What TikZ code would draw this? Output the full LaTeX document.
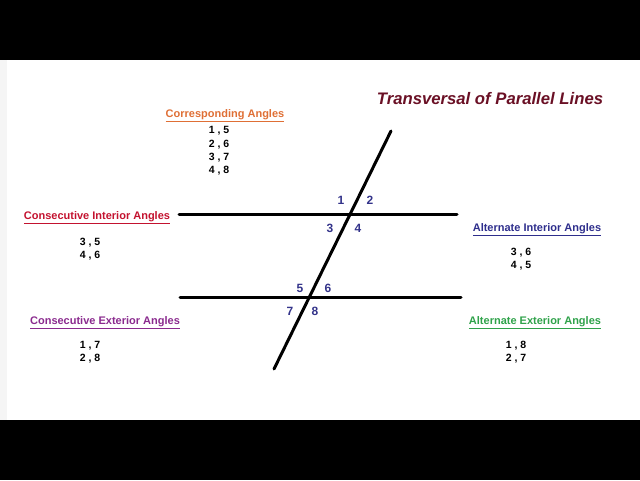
\documentclass[tikz,border=0pt]{standalone}
\usepackage{fontspec}
\setmainfont{Liberation Sans}
\definecolor{titlered}{HTML}{6A1025}
\definecolor{corrorange}{HTML}{DF6F35}
\definecolor{intred}{HTML}{C3122F}
\definecolor{intblue}{HTML}{2E2E8C}
\definecolor{extpurple}{HTML}{8A2A8E}
\definecolor{extgreen}{HTML}{2FA24A}
\definecolor{numblue}{HTML}{33338A}
\begin{document}
\begin{tikzpicture}[x=1pt,y=-1pt,line join=round,line cap=round,
		head/.style={inner sep=0pt,font=\bfseries\fontsize{11}{13}\selectfont},
		pairs/.style={inner sep=0pt,align=center,font=\bfseries\fontsize{10.5}{13.4}\selectfont},
		num/.style={inner sep=0pt,text=numblue,font=\bfseries\fontsize{12}{14}\selectfont}]
			\useasboundingbox (0,0) rectangle (640,480);
			\fill[black] (0,0) rectangle (640,60);
			\fill[black] (0,420) rectangle (640,480);
			\fill[gray!8] (0,60) rectangle (7,420);
			% lines
			\coordinate (T1) at (391,131); \coordinate (T2) at (274,369);
			\coordinate (A1) at (179,214); \coordinate (A2) at (457,214);
			\coordinate (B1) at (180,297); \coordinate (B2) at (461,297);
			\draw[line width=3pt] (A1)--(A2);
			\draw[line width=3pt] (B1)--(B2);
			\draw[line width=3pt] (T1)--(T2);
			% angle numbers
			\node[num] (n1) at (341,200) {1};
			\node[num] (n2) at (370,200) {2};
			\node[num] (n3) at (330,228) {3};
			\node[num] (n4) at (358,228) {4};
			\node[num] (n5) at (300,288) {5};
			\node[num] (n6) at (328,288) {6};
			\node[num] (n7) at (290,311) {7};
			\node[num] (n8) at (315,311) {8};
			% texts
			\node[inner sep=0pt,text=titlered,font=\bfseries\itshape\fontsize{16.7}{19}\selectfont] (title) at (490,99) {Transversal of Parallel Lines};
			\node[head,text=corrorange] (corr) at (225,116) {\underline{Corresponding Angles}};
			\node[pairs] (corrp) at (219,151) {1 , 5\\2 , 6\\3 , 7\\4 , 8};
			\node[head,text=intred] (cint) at (97,218) {\underline{Consecutive Interior Angles}};
			\node[pairs] (cintp) at (90,249) {3 , 5\\4 , 6};
			\node[head,text=intblue] (aint) at (537,230) {\underline{Alternate Interior Angles}};
			\node[pairs] (aintp) at (521,259) {3 , 6\\4 , 5};
			\node[head,text=extpurple] (cext) at (105,323) {\underline{Consecutive Exterior Angles}};
			\node[pairs] (cextp) at (90,352) {1 , 7\\2 , 8};
			\node[head,text=extgreen] (aext) at (535,323) {\underline{Alternate Exterior Angles}};
			\node[pairs] (aextp) at (516,352) {1 , 8\\2 , 7};
\end{tikzpicture}
\end{document}
